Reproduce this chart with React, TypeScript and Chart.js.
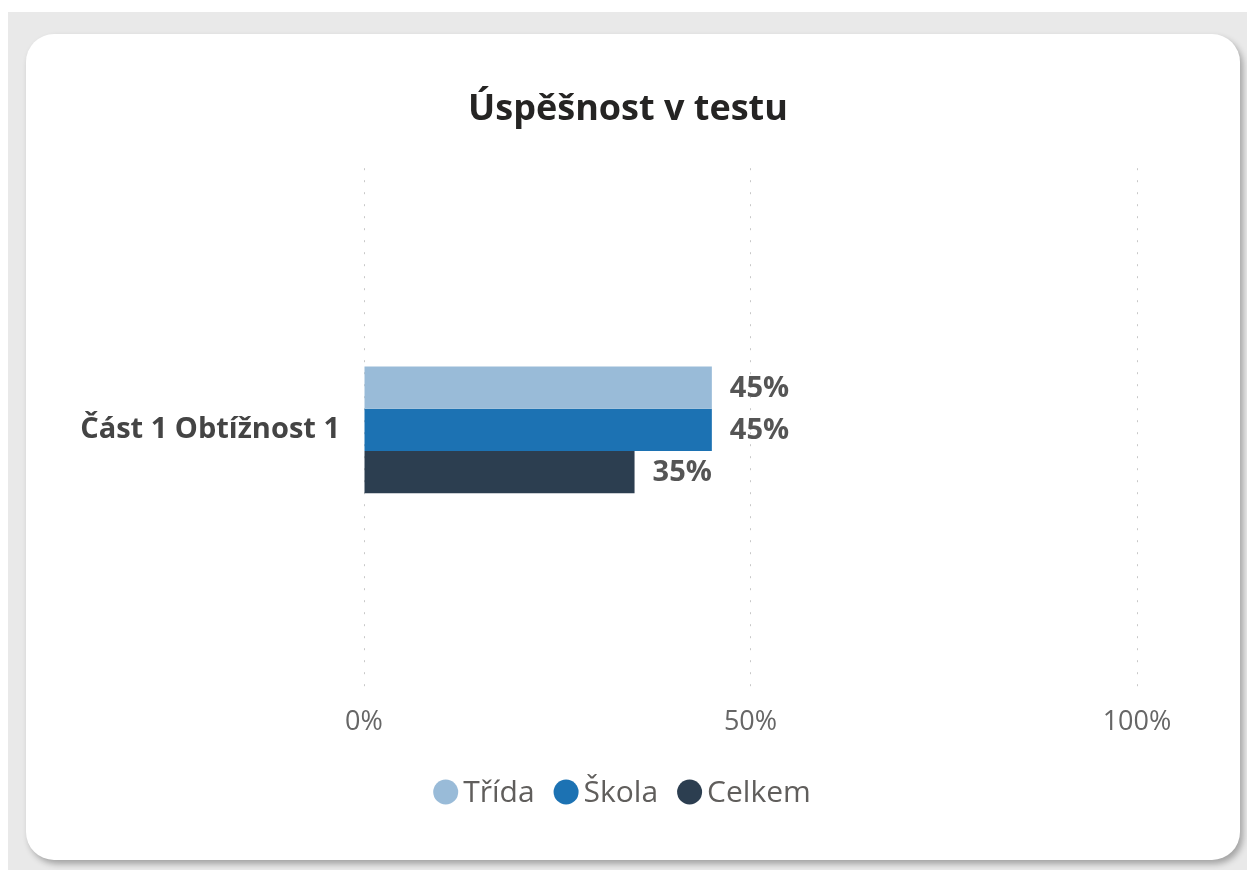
import React, { useEffect, useRef } from "react";
import { Chart, registerables } from "chart.js";

Chart.register(...registerables);

const categories = ["Část 1 Obtížnost 1"];
const seriesNames = ["Třída", "Škola", "Celkem"];
const tridaValues = [45];
const skolaValues = [45];
const celkemValues = [35];
const seriesColors = ["#99BBD8", "#1C72B3", "#2C3E50"];
const xTicks = [0, 50, 100];
const titleText = "Úspěšnost v testu";

const FONT = "'Open Sans', 'Noto Sans', sans-serif";

const dataLabelPlugin = {
  id: "dataLabels",
  afterDatasetsDraw(chart: any) {
    const ctx = chart.ctx;
    ctx.save();
    ctx.font = `bold 29px ${FONT}`;
    ctx.fillStyle = "#555555";
    ctx.textAlign = "left";
    ctx.textBaseline = "middle";
    chart.data.datasets.forEach((ds: any, i: number) => {
      const meta = chart.getDatasetMeta(i);
      meta.data.forEach((bar: any, j: number) => {
        ctx.fillText(`${ds.data[j]}%`, bar.x + 18, bar.y + 1);
      });
    });
    ctx.restore();
  },
};

const customLegendPlugin = {
  id: "customLegend",
  afterDraw(chart: any) {
    const ctx = chart.ctx;
    const diameter = 25;
    const textGap = 5;
    const itemGap = 19;
    const y = 758;
    ctx.save();
    ctx.font = `30px ${FONT}`;
    ctx.textBaseline = "middle";
    ctx.textAlign = "left";
    const items = chart.data.datasets.map((ds: any) => ({
      label: ds.label,
      color: ds.backgroundColor,
      w: ctx.measureText(ds.label).width,
    }));
    const total =
      items.reduce((s: number, it: any) => s + diameter + textGap + it.w, 0) +
      itemGap * (items.length - 1);
    let x = chart.width / 2 - total / 2 - 6;
    items.forEach((it: any) => {
      ctx.beginPath();
      ctx.fillStyle = it.color;
      ctx.arc(x + diameter / 2, y, diameter / 2, 0, Math.PI * 2);
      ctx.fill();
      ctx.fillStyle = "#605E5C";
      ctx.fillText(it.label, x + diameter + textGap, y + 1);
      x += diameter + textGap + it.w + itemGap;
    });
    ctx.restore();
  },
};

export default function App() {
  const ref = useRef<HTMLCanvasElement>(null);
  useEffect(() => {
    if (!ref.current) return;
    const chart = new Chart(ref.current, {
      type: "bar",
      data: {
        labels: categories,
        datasets: [
          { label: seriesNames[0], data: tridaValues, backgroundColor: seriesColors[0] },
          { label: seriesNames[1], data: skolaValues, backgroundColor: seriesColors[1] },
          { label: seriesNames[2], data: celkemValues, backgroundColor: seriesColors[2] },
        ],
      },
      options: {
        indexAxis: "y",
        responsive: false,
        animation: false,
        layout: { padding: { top: 0, right: 0, bottom: 106, left: 0 } },
        datasets: { bar: { categoryPercentage: 0.2423, barPercentage: 1 } },
        scales: {
          x: {
            min: 0,
            max: 100,
            afterBuildTicks: (scale: any) => {
              scale.ticks = xTicks.map((v) => ({ value: v }));
            },
            ticks: {
              callback: (v: any) => `${v}%`,
              font: { family: FONT, size: 27 },
              color: "#666666",
              padding: 15,
              maxRotation: 0,
            },
            grid: { display: true, color: "#c8c8c8", lineWidth: 1, drawTicks: false },
            border: { display: false, dash: [2, 10] },
          },
          y: {
            afterFit: (scale: any) => {
              scale.width = 338;
            },
            ticks: {
              font: { family: FONT, size: 29, weight: "bold" },
              color: "#444444",
              padding: 24,
            },
            grid: { display: false, drawTicks: false },
            border: { display: false },
          },
          rightSpace: {
            type: "linear",
            position: "right",
            display: true,
            afterFit: (scale: any) => {
              scale.width = 93;
            },
            ticks: { display: false },
            grid: { display: false, drawTicks: false },
            border: { display: false },
          },
        },
        plugins: {
          title: {
            display: true,
            text: titleText,
            font: { family: FONT, size: 36, weight: "bold" },
            color: "#252423",
            padding: { top: 54, bottom: 37 },
          },
          legend: { display: false },
          tooltip: { enabled: false },
        },
      },
      plugins: [dataLabelPlugin, customLegendPlugin],
    });
    return () => chart.destroy();
  }, []);

  return (
    <div
      style={{
        position: "fixed",
        left: 8,
        top: 12,
        right: 0,
        bottom: 0,
        background: "#e9e9e9",
      }}
    >
      <div
        style={{
          position: "absolute",
          left: 18,
          top: 22,
          width: 1214,
          height: 826,
          background: "#ffffff",
          borderRadius: 28,
          boxShadow: "3px 4px 6px rgba(0,0,0,0.3)",
        }}
      >
        <canvas ref={ref} width={1204} height={826} style={{ position: "absolute", left: 0, top: 0 }} />
      </div>
    </div>
  );
}
